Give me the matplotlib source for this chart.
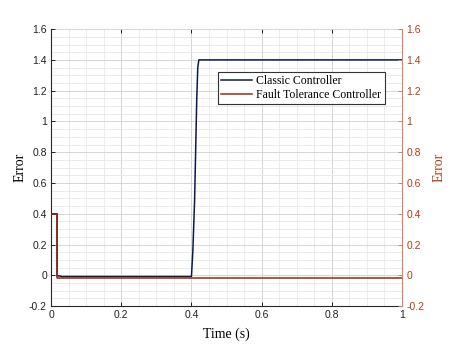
import numpy as np
import matplotlib
matplotlib.use('Agg')
import matplotlib.pyplot as plt
from matplotlib.ticker import MultipleLocator

# data
t_classic = [0, 0.017, 0.017, 0.025, 0.03, 0.40, 0.404, 0.409, 0.412, 0.415, 0.418, 0.421, 1.0]
e_classic = [0.4, 0.4, -0.004, -0.004, -0.008, -0.008, 0.16, 0.49, 0.81, 1.14, 1.35, 1.4, 1.4]
t_fault = [0, 0.016, 0.016, 1.0]
e_fault = [0.4, 0.4, -0.02, -0.02]

legend_labels = ['Classic Controller', 'Fault Tolerance Controller']

navy = '#0b1a4d'
brick = '#9a2a0c'
right_spine = '#d9825f'
right_text = '#a8401a'

sans = 'Liberation Sans'
serif = 'Liberation Serif'

fig = plt.figure(figsize=(4.6, 3.51), dpi=100)
ax = fig.add_axes([0.111, 0.128, 0.763, 0.789])

ax.plot(t_classic, e_classic, color=navy, lw=1.1, label=legend_labels[0], zorder=3)
ax.plot(t_fault, e_fault, color=brick, lw=1.1, label=legend_labels[1], zorder=4)

ax.set_xlim(0, 1)
ax.set_ylim(-0.2, 1.6)
ax.xaxis.set_minor_locator(MultipleLocator(0.05))
ax.yaxis.set_minor_locator(MultipleLocator(0.05))
ax.grid(which='major', color='#d0d0d0', lw=0.6)
ax.grid(which='minor', color='#e3e3e3', lw=0.5)
ax.set_axisbelow(True)

def fmt(v):
    return '%g' % round(v, 2)

xt = np.arange(0, 1.01, 0.2)
yt = np.arange(-0.2, 1.61, 0.2)
ax.set_xticks(xt)
ax.set_xticklabels([fmt(v) for v in xt])
ax.set_yticks(yt)
ax.set_yticklabels([fmt(v) for v in yt])
ax.tick_params(which='major', direction='in', length=3, width=0.7, top=True,
               labelsize=7.5, colors='#222222', pad=3)
ax.tick_params(which='minor', length=0)
for lab in ax.get_xticklabels() + ax.get_yticklabels():
    lab.set_family(sans)

for s in ['left', 'bottom']:
    ax.spines[s].set_color('#262626')
    ax.spines[s].set_linewidth(0.8)
ax.spines['top'].set_visible(False)
ax.spines['right'].set_visible(False)

ax.set_xlabel('Time (s)', family=serif, fontsize=10, labelpad=5)
ax.set_ylabel('Error', family=serif, fontsize=10, labelpad=2)

# right axis, same scale
ax2 = ax.twinx()
ax2.set_ylim(-0.2, 1.6)
ax2.set_yticks(yt)
ax2.set_yticklabels([fmt(v) for v in yt])
ax2.tick_params(direction='in', length=3, width=0.7, labelsize=7.5,
                colors=right_spine, labelcolor=right_text, pad=3)
for lab in ax2.get_yticklabels():
    lab.set_family(sans)
for s in ['left', 'bottom', 'top']:
    ax2.spines[s].set_visible(False)
ax2.spines['right'].set_color(right_spine)
ax2.spines['right'].set_linewidth(0.8)
ax2.set_ylabel('Error', family=serif, fontsize=10, color=right_text, labelpad=6)

leg = ax.legend(loc='upper left', bbox_to_anchor=(0.475, 0.846), prop={'family': serif, 'size': 8.5},
                fancybox=False, framealpha=1, edgecolor='#333333', handlelength=2.6,
                borderpad=0.3, labelspacing=0.12, handletextpad=0.34, borderaxespad=0)
leg.get_frame().set_linewidth(0.8)
leg.set_zorder(10)

plt.savefig('out.png', dpi=100)
